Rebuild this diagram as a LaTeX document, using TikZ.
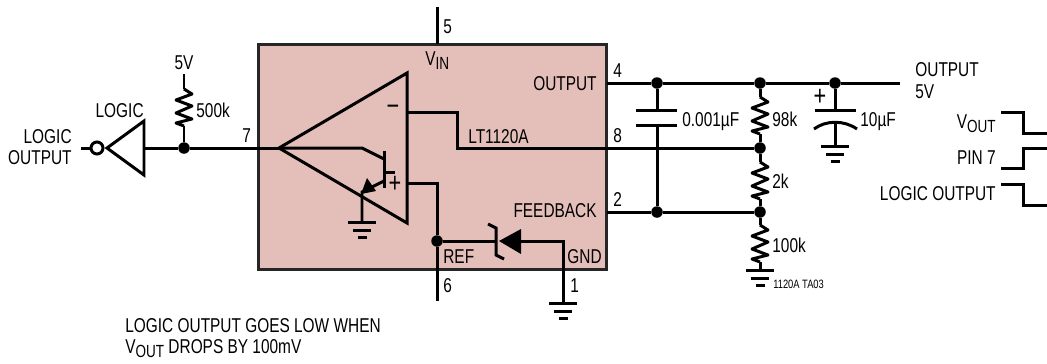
\documentclass[tikz,border=0pt]{standalone}
\usepackage{fontspec}
\setmainfont[FakeStretch=0.77]{Liberation Sans}
\newcommand{\lowtxt}[1]{\raisebox{-0.45ex}{\fontsize{10}{12}\selectfont #1}}
\tikzset{
  wire/.style={line width=1.7pt, line join=miter},
  dot/.style={circle, fill=black, inner sep=0pt, minimum size=0.23cm},
  chip/.style={draw=black!85, fill=chipred, line width=1.7pt, inner sep=0pt, minimum width=6.98cm, minimum height=4.52cm},
  lbl/.style={inner sep=0pt, font=\fontsize{11.4}{13}\selectfont},
  tiny lbl/.style={inner sep=0pt, font=\fontsize{6.9}{8}\selectfont},
  sign lbl/.style={inner sep=0pt, font=\fontsize{16}{16}\selectfont},
  gnd/.pic={
    \draw[wire] (-14,0) -- (14,0);
    \draw[wire] (-9,8) -- (9,8);
    \draw[line width=2.2pt] (-4.5,15.5) -- (4.5,15.5);
  },
  res/.pic={
    \draw[wire, line join=round] (0,0) -- (8,5) -- (-8,11) -- (8,17) -- (-8,24) -- (8,30) -- (-8,34) -- (0,37);
  }
}
\definecolor{chipred}{HTML}{E4BFB9}
\begin{document}
\begin{tikzpicture}[x=0.02cm, y=-0.02cm]
  \useasboundingbox (0,0) rectangle (1047,363);

  % chip
  \node[chip] (chip) at (432.5,157) {};

  % op amp
  \coordinate (ampL) at (279,148);
  \coordinate (ampT) at (407,73);
  \coordinate (ampB) at (407,223);
  \draw[wire] (ampL) -- (ampT) -- (ampB) -- cycle;
  \node[sign lbl] (ampMinus) at (393,110) {−};
  \node[sign lbl] (ampPlus) at (395,184) {+};

  % transistor inside the op amp
  \coordinate (colKnee) at (362,148);
  \coordinate (colEnd) at (384,159);
  \coordinate (barT) at (384,151);
  \coordinate (barB) at (384,188);
  \coordinate (baseIn) at (384,172);
  \coordinate (baseOut) at (395,172);
  \coordinate (emitB) at (384,181);
  \coordinate (emitE) at (362,192);
  \coordinate (ampGnd) at (362,222);
  \draw[wire] (ampL) -- (colKnee) -- (colEnd);
  \draw[wire] (barT) -- (barB);
  \draw[wire] (baseIn) -- (baseOut);
  \draw[wire] (emitB) -- (emitE) -- (ampGnd);
  \fill[black] (361,194) -- (367,178) -- (376,191) -- cycle;
  \pic at (ampGnd) {gnd};

  % pin 7 and the inverter
  \node[dot] (dotPull) at (184,148) {};
  \coordinate (invTip) at (107,148);
  \coordinate (invT) at (144,121);
  \coordinate (invB) at (144,175);
  \coordinate (invBase) at (144,148);
  \coordinate (logicEnd) at (81,148);
  \coordinate (pullTop) at (184,74);
  \coordinate (pullR) at (184,89);
  \coordinate (pullB) at (184,126);
  \draw[wire] (invTip) -- (invT) -- (invB) -- cycle;
  \draw[wire] (invBase) -- (dotPull) -- (ampL);
  \node[circle, draw=black, fill=white, line width=1.7pt, inner sep=0pt, minimum size=0.24cm] (bubble) at (97,148) {};
  \draw[wire] (logicEnd) -- (bubble);
  \draw[wire] (pullTop) -- (pullR);
  \pic at (pullR) {res};
  \draw[wire] (pullB) -- (dotPull);

  % pins 5 and 6
  \coordinate (pin5T) at (437,7);
  \coordinate (pin5B) at (437,44);
  \coordinate (plusOut) at (407,183);
  \coordinate (refKnee) at (437,183);
  \coordinate (pin6) at (437,301);
  \node[dot] (dotRef) at (437,241) {};
  \draw[wire] (pin5T) -- (pin5B);
  \draw[wire] (plusOut) -- (refKnee) -- (dotRef) -- (pin6);

  % reference diode and pin 1
  \coordinate (gndKnee) at (563,241);
  \coordinate (gndPin) at (563,303);
  \coordinate (dioA) at (521,241);
  \coordinate (dioK) at (496,241);
  \draw[wire] (dotRef) -- (dioK);
  \draw[wire] (488,224) -- (496,228) -- (496,255) -- (504,259);
  \fill[black] (499,241) -- (521,229) -- (521,254) -- cycle;
  \draw[wire] (dioA) -- (gndKnee) -- (gndPin);
  \pic at (gndPin) {gnd};

  % output rail
  \node[dot] (dotCapA) at (657,83) {};
  \node[dot] (dotDivA) at (760,83) {};
  \node[dot] (dotCapB) at (835,83) {};
  \coordinate (pin4) at (607,83);
  \coordinate (railEnd) at (900,83);
  \draw[wire] (pin4) -- (dotCapA) -- (dotDivA) -- (dotCapB) -- (railEnd);

  % pin 8
  \coordinate (minusOut) at (407,112);
  \coordinate (minusKnee) at (457,112);
  \coordinate (minusLow) at (457,148);
  \node[dot] (dotDivB) at (760,148) {};
  \draw[wire] (minusOut) -- (minusKnee) -- (minusLow) -- (dotDivB);

  % pin 2
  \coordinate (pin2) at (607,212);
  \node[dot] (dotCapC) at (657,212) {};
  \node[dot] (dotDivC) at (760,212) {};
  \draw[wire] (pin2) -- (dotCapC) -- (dotDivC);

  % 0.001uF capacitor
  \coordinate (capAT) at (657,110);
  \coordinate (capAB) at (657,125);
  \draw[wire] (dotCapA) -- (capAT);
  \draw[wire] (capAB) -- (dotCapC);
  \draw[wire] (636,110) -- (677,110);
  \draw[wire] (636,125) -- (677,125);

  % divider
  \coordinate (r98T) at (760,97);
  \coordinate (r98B) at (760,134);
  \coordinate (r2T) at (760,162);
  \coordinate (r2B) at (760,199);
  \coordinate (r100T) at (760,225);
  \coordinate (r100B) at (760,262);
  \coordinate (divGnd) at (760,270);
  \draw[wire] (dotDivA) -- (r98T);
  \pic at (r98T) {res};
  \draw[wire] (r98B) -- (dotDivB) -- (r2T);
  \pic at (r2T) {res};
  \draw[wire] (r2B) -- (dotDivC) -- (r100T);
  \pic at (r100T) {res};
  \draw[wire] (r100B) -- (divGnd);
  \pic at (divGnd) {gnd};

  % 10uF capacitor
  \coordinate (capBT) at (835,110);
  \coordinate (capBC) at (835,122);
  \coordinate (capBGnd) at (835,146);
  \draw[wire] (dotCapB) -- (capBT);
  \draw[wire] (capBC) -- (capBGnd);
  \draw[wire] (815,110) -- (856,110);
  \draw[wire] (814,129) .. controls (826,120) and (844,120) .. (857,129);
  \pic at (capBGnd) {gnd};
  \node[sign lbl] (capPlus) at (820,97) {+};

  % waveforms
  \draw[wire] (1001,112) -- (1023,112) -- (1023,133) -- (1047,133);
  \draw[wire] (1001,168) -- (1023,168) -- (1023,148) -- (1047,148);
  \draw[wire] (1001,184) -- (1023,184) -- (1023,205) -- (1047,205);

  % labels
  \node[lbl, anchor=base east] (lblLogicA) at (72,143) {LOGIC};
  \node[lbl, anchor=base east] (lblLogicB) at (72,164) {OUTPUT};
  \node[lbl, anchor=base east] (lblLogic) at (144,117) {LOGIC};
  \node[lbl, anchor=base] (lblFive) at (184,69) {5V};
  \node[lbl, anchor=base west] (lblPull) at (196,117) {500k};
  \node[lbl, anchor=base west] (lblSeven) at (242,142) {7};
  \node[lbl, anchor=base west] (lblPinFive) at (443,33) {5};
  \node[lbl, anchor=base west] (lblVin) at (425,65) {V\lowtxt{IN}};
  \node[lbl, anchor=base east] (lblOutput) at (597,90) {OUTPUT};
  \node[lbl, anchor=base west] (lblPinFour) at (613,77) {4};
  \node[lbl, anchor=base west] (lblPart) at (468,143) {LT1120A};
  \node[lbl, anchor=base west] (lblPinEight) at (613,142) {8};
  \node[lbl, anchor=base east] (lblFeedback) at (597,217) {FEEDBACK};
  \node[lbl, anchor=base west] (lblPinTwo) at (613,206) {2};
  \node[lbl, anchor=base west] (lblRef) at (443,263) {REF};
  \node[lbl, anchor=base east] (lblGnd) at (602,263) {GND};
  \node[lbl, anchor=base west] (lblPinSix) at (443,292) {6};
  \node[lbl, anchor=base west] (lblPinOne) at (570,292) {1};
  \node[lbl, anchor=base west] (lblCapA) at (682,126) {0.001µF};
  \node[lbl, anchor=base west] (lblRa) at (772,126) {98k};
  \node[lbl, anchor=base west] (lblCapB) at (860,126) {10µF};
  \node[lbl, anchor=base west] (lblRb) at (772,188) {2k};
  \node[lbl, anchor=base west] (lblRc) at (772,252) {100k};
  \node[tiny lbl, anchor=base west] (lblCode) at (773,288) {1120A TA03};
  \node[lbl, anchor=base west] (lblOutA) at (915,76) {OUTPUT};
  \node[lbl, anchor=base west] (lblOutB) at (915,98) {5V};
  \node[lbl, anchor=base east] (lblWaveA) at (996,128) {V\lowtxt{OUT}};
  \node[lbl, anchor=base east] (lblWaveB) at (996,164) {PIN 7};
  \node[lbl, anchor=base east] (lblWaveC) at (996,200) {LOGIC OUTPUT};
  \node[lbl, anchor=base west] (lblNoteA) at (125,332) {LOGIC OUTPUT GOES LOW WHEN};
  \node[lbl, anchor=base west] (lblNoteB) at (125,353) {V\lowtxt{OUT} DROPS BY 100mV};

\end{tikzpicture}
\end{document}
